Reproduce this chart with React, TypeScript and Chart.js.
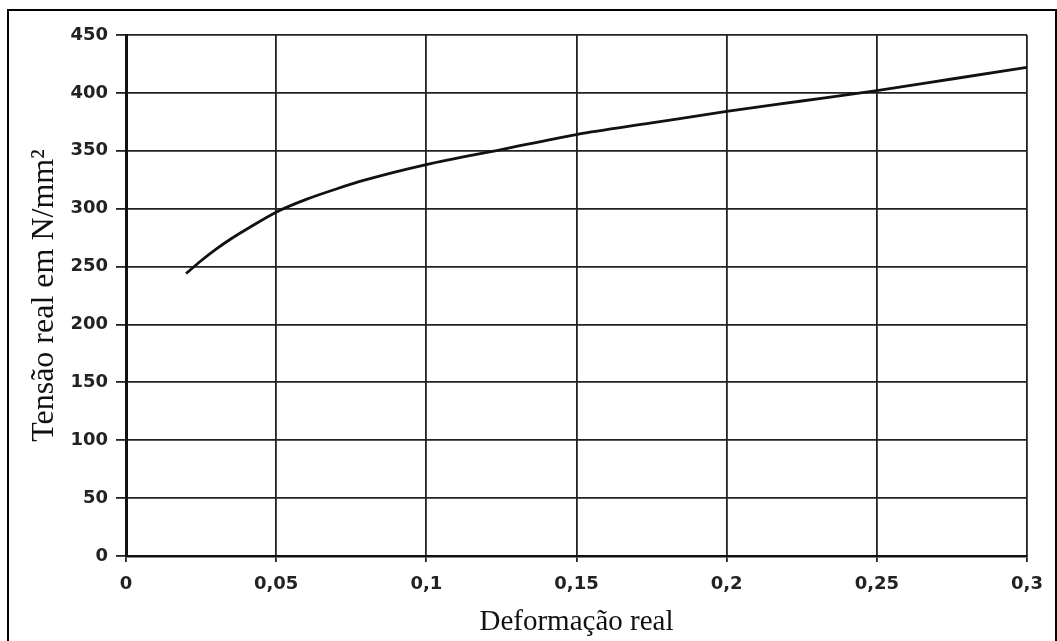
import React, { useEffect, useRef } from "react";
import { Chart, registerables } from "chart.js";

Chart.register(...registerables);

const strainValues = [0.02, 0.025, 0.03, 0.035, 0.04, 0.05, 0.06, 0.07, 0.08, 0.1, 0.125, 0.15, 0.175, 0.2, 0.225, 0.25, 0.275, 0.3];
const stressValues = [244, 255, 265, 274, 282, 297, 308, 317, 325, 338, 351, 364, 374, 384, 393, 402, 412, 422];
const xTickLabels = ["0", "0,05", "0,1", "0,15", "0,2", "0,25", "0,3"];
const yTickLabels = ["0", "50", "100", "150", "200", "250", "300", "350", "400", "450"];
const xTitle = "Deformação real";
const yTitle = "Tensão real em N/mm²";

export default function App() {
  const canvasRef = useRef<HTMLCanvasElement | null>(null);

  useEffect(() => {
    const canvas = canvasRef.current;
    if (!canvas) return;
    const points = strainValues.map((x, i) => ({ x, y: stressValues[i] }));
    const tickFont = { family: "'DejaVu Sans', sans-serif", size: 18, weight: "bold" as const };
    const serif = "'Liberation Serif', 'Times New Roman', serif";
    const chart = new Chart(canvas, {
      type: "line",
      data: {
        datasets: [
          {
            data: points,
            borderColor: "#111",
            borderWidth: 2.8,
            pointRadius: 0,
            fill: false,
            cubicInterpolationMode: "monotone",
          },
        ],
      },
      options: {
        animation: false,
        responsive: true,
        maintainAspectRatio: false,
        layout: { padding: { top: 35, right: 30, left: 0, bottom: 0 } },
        plugins: { legend: { display: false }, tooltip: { enabled: false } },
        scales: {
          x: {
            type: "linear",
            min: 0,
            max: 0.3,
            ticks: {
              stepSize: 0.05,
              color: "#222",
              font: tickFont,
              padding: 12,
              maxRotation: 0,
              callback: (v: any) => xTickLabels[Math.round(Number(v) / 0.05)] ?? "",
            },
            grid: { color: "#222", lineWidth: 1.8, tickLength: 6 },
            border: { display: true, color: "#111", width: 2.5 },
            title: { display: true, text: xTitle, color: "#111", font: { family: serif, size: 29 }, padding: { top: 0, bottom: 1 } },
            afterFit: (scale: any) => {
              scale.height = 85;
            },
          },
          y: {
            type: "linear",
            min: 0,
            max: 450,
            ticks: {
              stepSize: 50,
              color: "#222",
              font: tickFont,
              padding: 8,
              callback: (v: any) => yTickLabels[Math.round(Number(v) / 50)] ?? "",
            },
            grid: { color: "#222", lineWidth: 1.8, tickLength: 10 },
            border: { display: true, color: "#111", width: 3 },
            title: { display: true, text: yTitle, color: "#111", font: { family: serif, size: 32 }, padding: { top: 25, bottom: 0 } },
            afterFit: (scale: any) => {
              scale.width = 126;
            },
          },
        },
      },
    });
    return () => chart.destroy();
  }, []);

  return (
    <>
      <div
        style={{
          position: "absolute",
          left: 7,
          top: 9,
          width: 1050,
          height: 632,
          boxSizing: "border-box",
          borderTop: "2px solid #000",
          borderLeft: "2px solid #000",
          borderRight: "2px solid #000",
          background: "#fff",
        }}
      />
      <div style={{ position: "absolute", left: 0, top: 0, width: 1057, height: 641 }}>
        <canvas ref={canvasRef} />
      </div>
    </>
  );
}
